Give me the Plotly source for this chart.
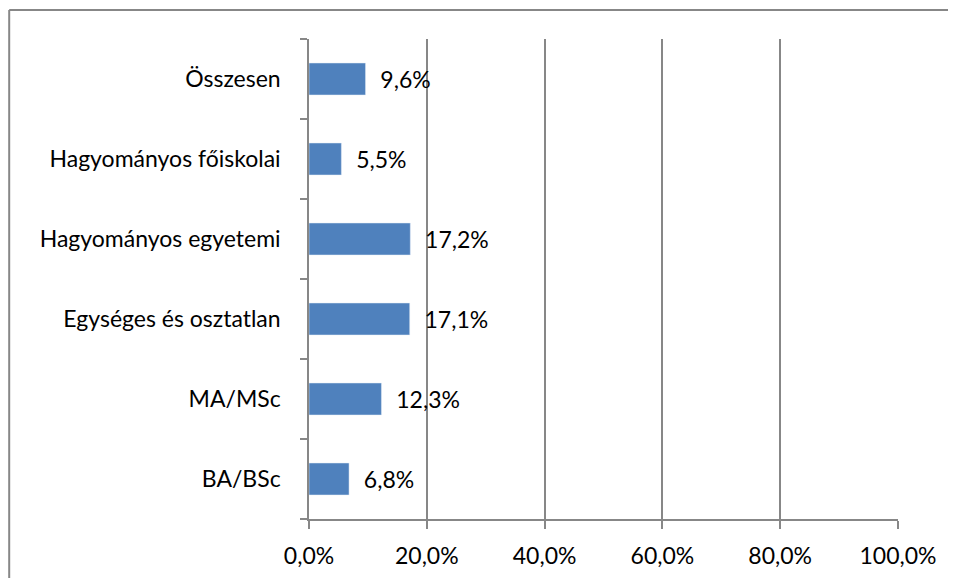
import plotly.graph_objects as go

categories = ["BA/BSc", "MA/MSc", "Egységes és osztatlan",
              "Hagyományos egyetemi", "Hagyományos főiskolai", "Összesen"]
values = [6.8, 12.3, 17.1, 17.2, 5.5, 9.6]
x_ticks = [0, 20, 40, 60, 80, 100]
x_tick_labels = ["0,0%", "20,0%", "40,0%", "60,0%", "80,0%", "100,0%"]

grey = "#878787"
font = dict(family="Lato, Carlito, Noto Sans", size=23, color="black")

fig = go.Figure()
fig.add_trace(go.Bar(
    x=values,
    y=categories,
    orientation="h",
    marker_color="#4F81BD",
    text=["  " + f"{v:.1f}".replace(".", ",") + "%" for v in values],
    textposition="outside",
    cliponaxis=False,
    textfont=font,
    showlegend=False,
))

# page renders with an 8px offset, so the figure is a bit smaller than the window
border = dict(color=grey, width=2)
fig.update_layout(
    width=948, height=570,
    margin=dict(l=301, r=58, t=31, b=59),
    plot_bgcolor="white",
    paper_bgcolor="white",
    bargap=0.6,
    font=font,
    separators=", ",
    # outer chart border: only top and left edges fall inside the page
    shapes=[
        dict(type="line", xref="paper", yref="paper",
             x0=-0.509, x1=1.2, y0=1.0604, y1=1.0604, line=border, layer="below"),
        dict(type="line", xref="paper", yref="paper",
             x0=-0.509, x1=-0.509, y0=-0.3, y1=1.0604, line=border, layer="below"),
    ],
)
fig.update_xaxes(
    range=[0, 100], tickvals=x_ticks, ticktext=x_tick_labels,
    showgrid=True, gridcolor=grey, gridwidth=1.5,
    showline=True, linecolor=grey, linewidth=1.5,
    ticks="outside", ticklen=8, tickcolor=grey, tickwidth=1.5,
    ticklabelstandoff=8, zeroline=False, automargin=False,
)
fig.update_yaxes(
    showline=True, linecolor=grey, linewidth=1.5,
    ticks="outside", ticklen=7, tickcolor=grey, tickwidth=1.5,
    tickson="boundaries", showgrid=False,
    ticklabelstandoff=22, automargin=False,
)

fig.write_html("out.html")
